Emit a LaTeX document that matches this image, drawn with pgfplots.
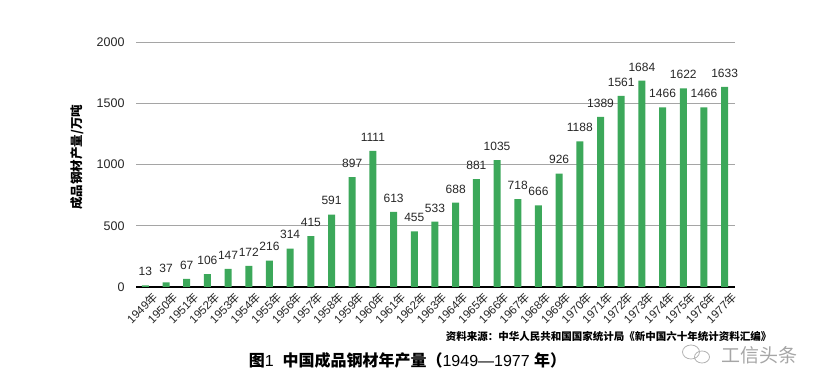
\documentclass[border=0pt]{standalone}
\usepackage{fontspec}
\setmainfont{Liberation Sans}
\newfontfamily\cjk{Noto Sans CJK SC}
\usepackage{pgfplots}
\pgfplotsset{compat=1.18}
\definecolor{bargreen}{RGB}{60,168,90}
\definecolor{gridgray}{RGB}{165,165,165}
\newcommand{\Y}[1]{#1{\cjk 年}}
\begin{document}
\begin{tikzpicture}[x=1pt,y=1pt]
\path[use as bounding box] (0,0) rectangle (826,390);
\begin{axis}[
  at={(136pt,103pt)}, anchor=south west,
  scale only axis, width=599pt, height=245pt,
  xmin=-0.45, xmax=28.5, ymin=0, ymax=2000,
  enlargelimits=false,
  ybar, bar width=7pt,
  axis x line*=bottom, axis y line*=left,
  y axis line style={draw=none},
  x axis line style={black, line width=1.3pt, -},
  major tick length=0pt,
  ytick={0,500,1000,1500,2000},
  ymajorgrids, grid style={gridgray, line width=0.8pt},
  /pgf/number format/assume math mode=true,
  /pgf/number format/1000 sep={},
  yticklabel style={font=\fontsize{12.5}{12.5}\selectfont, color=black!85, anchor=east, xshift=-8pt},
  xtick={0,...,28},
  xticklabels={\Y{1949},\Y{1950},\Y{1951},\Y{1952},\Y{1953},\Y{1954},\Y{1955},\Y{1956},\Y{1957},\Y{1958},\Y{1959},\Y{1960},\Y{1961},\Y{1962},\Y{1963},\Y{1964},\Y{1965},\Y{1966},\Y{1967},\Y{1968},\Y{1969},\Y{1970},\Y{1971},\Y{1972},\Y{1973},\Y{1974},\Y{1975},\Y{1976},\Y{1977}},
  xticklabel style={font=\fontsize{11.5}{11.5}\selectfont, color=black!85, inner sep=0pt, xshift=6pt, yshift=-4pt, rotate=45, anchor=north east},
  ylabel={\cjk\bfseries 成品钢材产量/万吨},
  ylabel style={at={(axis description cs:-0.0985,0.53)}, anchor=center, font=\fontsize{12.5}{12.5}\selectfont},
  nodes near coords,
  nodes near coords style={font=\fontsize{12}{12}\selectfont, color=black!85, anchor=south, yshift=6pt, /pgf/number format/assume math mode=true, /pgf/number format/1000 sep={}},
]
\addplot[fill=bargreen, draw=none] coordinates {
(0,13) (1,37) (2,67) (3,106) (4,147) (5,172) (6,216) (7,314) (8,415) (9,591)
(10,897) (11,1111) (12,613) (13,455) (14,533) (15,688) (16,881) (17,1035) (18,718) (19,666)
(20,926) (21,1188) (22,1389) (23,1561) (24,1684) (25,1466) (26,1622) (27,1466) (28,1633)
};
\end{axis}
\node[font=\cjk\bfseries\fontsize{10.5}{10.5}\selectfont, anchor=center] at (608.5,53) {资料来源：中华人民共和国国家统计局《新中国六十年统计资料汇编》};
\node[font=\fontsize{16}{16}\selectfont, anchor=center] at (407.5,30) {{\cjk\bfseries 图}1\ \ {\cjk\bfseries 中国成品钢材年产量（}1949—1977 {\cjk\bfseries 年）}};
\node[font=\cjk\fontsize{19}{19}\selectfont, color=black!35, anchor=center] at (759,35) {工信头条};
\draw[black!30, line width=0.8pt] (691,38) ellipse (8.5 and 7);
\draw[black!30, line width=0.8pt] (702,33) ellipse (7.5 and 6);
\end{tikzpicture}
\end{document}
